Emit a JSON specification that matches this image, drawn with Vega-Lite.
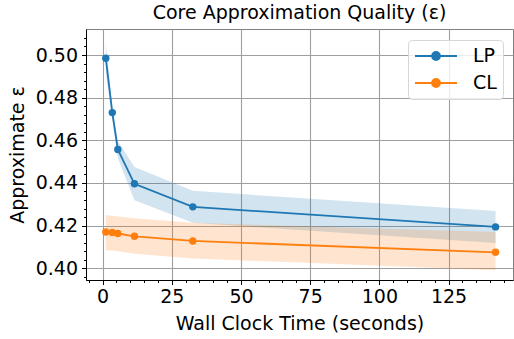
{
  "$schema": "https://vega.github.io/schema/vega-lite/v6.json",
  "autosize": {"type": "none"},
  "padding": {"left": 86, "top": 29, "right": 1, "bottom": 59},
  "width": 427,
  "height": 251,
  "background": "white",
  "title": {"text": "Core Approximation Quality (ε)", "font": "DejaVu Sans", "fontSize": 19, "fontWeight": "normal", "color": "black", "offset": 6, "anchor": "middle"},
  "config": {
    "font": "DejaVu Sans",
    "view": {"stroke": "#7f7f7f", "strokeWidth": 1},
    "axis": {
      "labelFont": "DejaVu Sans", "labelFontSize": 19, "labelColor": "black",
      "titleFont": "DejaVu Sans", "titleFontSize": 19, "titleFontWeight": "normal", "titleColor": "black",
      "domainColor": "black", "domainWidth": 1, "tickColor": "black", "tickWidth": 1,
      "gridColor": "#9e9e9e", "gridWidth": 1.1,
      "labelOverlap": false, "labelFlush": false, "labelBound": false
    },
    "legend": {
      "labelFont": "DejaVu Sans", "labelFontSize": 19, "labelColor": "black"
    }
  },
  "data": {"values": [
    {"method": "LP", "time": 1.15, "mean": 0.4985, "lo": 0.4915, "hi": 0.5055},
    {"method": "LP", "time": 3.5, "mean": 0.473, "lo": 0.4703, "hi": 0.4757},
    {"method": "LP", "time": 5.5, "mean": 0.4557, "lo": 0.4517, "hi": 0.4597},
    {"method": "LP", "time": 11.5, "mean": 0.4396, "lo": 0.4319, "hi": 0.4475},
    {"method": "LP", "time": 32.6, "mean": 0.4288, "lo": 0.4213, "hi": 0.4363},
    {"method": "LP", "time": 142, "mean": 0.4194, "lo": 0.4119, "hi": 0.4268},
    {"method": "CL", "time": 1.15, "mean": 0.417, "lo": 0.4085, "hi": 0.4249},
    {"method": "CL", "time": 3.5, "mean": 0.4168, "lo": 0.4083, "hi": 0.4246},
    {"method": "CL", "time": 5.5, "mean": 0.4163, "lo": 0.408, "hi": 0.4243},
    {"method": "CL", "time": 11.5, "mean": 0.415, "lo": 0.4068, "hi": 0.4235},
    {"method": "CL", "time": 32.6, "mean": 0.4128, "lo": 0.4046, "hi": 0.4213},
    {"method": "CL", "time": 142, "mean": 0.4075, "lo": 0.3991, "hi": 0.417}
  ]},
  "encoding": {
    "x": {
      "field": "time", "type": "quantitative",
      "scale": {"domain": [-6, 148.3], "nice": false, "zero": false},
      "axis": {
        "title": "Wall Clock Time (seconds)", "titlePadding": 8,
        "values": [-5,0,5,10,15,20,25,30,35,40,45,50,55,60,65,70,75,80,85,90,95,100,105,110,115,120,125,130,135,140,145],
        "labelExpr": "datum.value % 25 === 0 ? datum.label : ''",
        "labelPadding": 3,
        "tickSize": {"condition": {"test": "datum.value % 25 === 0", "value": 4.5}, "value": 2.5},
        "gridOpacity": {"condition": {"test": "datum.value % 25 === 0", "value": 1}, "value": 0}
      }
    },
    "color": {
      "field": "method", "type": "nominal",
      "scale": {"domain": ["LP", "CL"], "range": ["#1f77b4", "#ff7f0e"]},
      "legend": {
        "title": null, "orient": "none", "legendX": 322, "legendY": 11,
        "symbolType": "M-1,0H3.67M0.89,0A0.44,0.44,0,1,1,1.78,0A0.44,0.44,0,1,1,0.89,0Z",
        "symbolSize": 324, "symbolStrokeWidth": 1.8, "labelOffset": 39, "rowPadding": 7,
        "padding": 6, "strokeColor": "#d6d6d6", "fillColor": "rgba(255,255,255,0.8)", "cornerRadius": 4,
        "labelFontSize": 19,
        "encode": {"symbols": {"update": {
          "fill": {"scale": "color", "field": "value"},
          "stroke": {"scale": "color", "field": "value"},
          "opacity": {"value": 1}, "fillOpacity": {"value": 1}, "strokeOpacity": {"value": 1},
          "strokeWidth": {"value": 1.8}
        }}}
      }
    }
  },
  "layer": [
    {
      "mark": {"type": "area", "opacity": 0.2},
      "encoding": {
        "y": {
          "field": "lo", "type": "quantitative",
          "scale": {"domain": [0.3945, 0.5122], "nice": false, "zero": false},
          "axis": {
            "title": "Approximate ε", "titlePadding": 8,
            "values": [0.396,0.4,0.404,0.408,0.412,0.416,0.42,0.424,0.428,0.432,0.436,0.44,0.444,0.448,0.452,0.456,0.46,0.464,0.468,0.472,0.476,0.48,0.484,0.488,0.492,0.496,0.5,0.504,0.508],
            "format": ".2f",
            "labelExpr": "abs(datum.value*50 - round(datum.value*50)) < 0.01 ? datum.label : ''",
            "labelFontSize": {"condition": {"test": "abs(datum.value*50 - round(datum.value*50)) < 0.01", "value": 19}, "value": 1},
            "labelPadding": 4,
            "tickSize": {"condition": {"test": "abs(datum.value*50 - round(datum.value*50)) < 0.01", "value": 4.5}, "value": 2.5},
            "gridOpacity": {"condition": {"test": "abs(datum.value*50 - round(datum.value*50)) < 0.01", "value": 1}, "value": 0}
          }
        },
        "y2": {"field": "hi"}
      }
    },
    {
      "mark": {"type": "line", "strokeWidth": 1.8, "point": {"filled": true, "size": 55, "opacity": 1}},
      "encoding": {
        "y": {
          "field": "mean", "type": "quantitative",
          "scale": {"domain": [0.3945, 0.5122], "nice": false, "zero": false},
          "axis": {
            "title": "Approximate ε", "titlePadding": 8,
            "values": [0.396,0.4,0.404,0.408,0.412,0.416,0.42,0.424,0.428,0.432,0.436,0.44,0.444,0.448,0.452,0.456,0.46,0.464,0.468,0.472,0.476,0.48,0.484,0.488,0.492,0.496,0.5,0.504,0.508],
            "format": ".2f",
            "labelExpr": "abs(datum.value*50 - round(datum.value*50)) < 0.01 ? datum.label : ''",
            "labelFontSize": {"condition": {"test": "abs(datum.value*50 - round(datum.value*50)) < 0.01", "value": 19}, "value": 1},
            "labelPadding": 4,
            "tickSize": {"condition": {"test": "abs(datum.value*50 - round(datum.value*50)) < 0.01", "value": 4.5}, "value": 2.5},
            "gridOpacity": {"condition": {"test": "abs(datum.value*50 - round(datum.value*50)) < 0.01", "value": 1}, "value": 0}
          }
        }
      }
    }
  ]
}
